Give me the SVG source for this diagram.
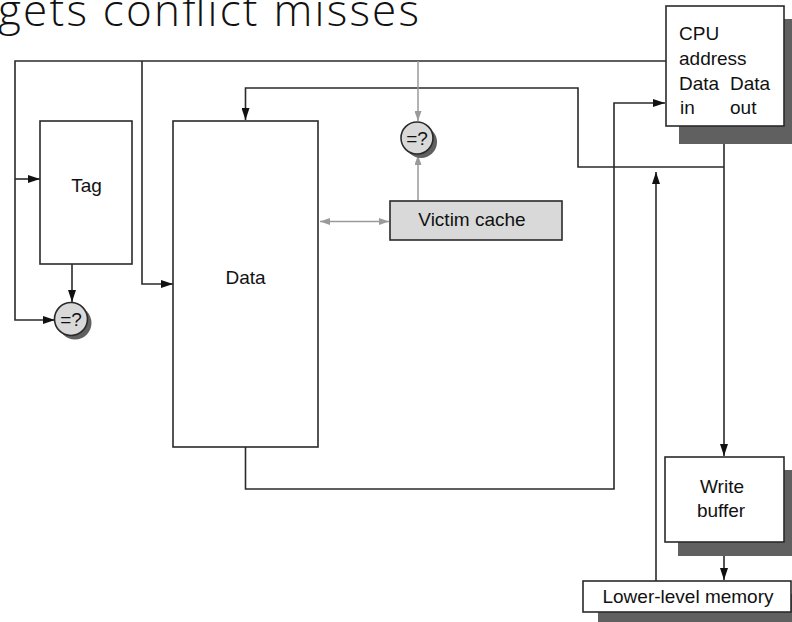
<svg xmlns="http://www.w3.org/2000/svg" width="792" height="622" viewBox="0 0 792 622">
<style>
.box{fill:#fff;stroke:#2a2a2a;stroke-width:1.6}
.gbox{fill:#d9d9d9;stroke:#2a2a2a;stroke-width:1.6}
.shadow{fill:#606060}
.ln{fill:none;stroke:#2a2a2a;stroke-width:1.6}
.gl{fill:none;stroke:#9a9a9a;stroke-width:1.5}
.t{font-family:"Liberation Sans",Arial,sans-serif;font-size:19px;fill:#111}
.c{text-anchor:middle}
.title{font-family:"Open Sans","DejaVu Sans",sans-serif;font-weight:300;font-size:44px;fill:#111}
</style>
<defs>
<marker id="ah" markerUnits="userSpaceOnUse" markerWidth="12" markerHeight="8" refX="12" refY="4" orient="auto">
<path d="M0,0 L12,4 L0,8 Z" fill="#111"/>
</marker>
<marker id="ahg" markerUnits="userSpaceOnUse" markerWidth="10" markerHeight="7" refX="10" refY="3.5" orient="auto-start-reverse">
<path d="M0,0 L10,3.5 L0,7 Z" fill="#9a9a9a"/>
</marker>
</defs>
<text class="title" x="-2" y="26" textLength="421" lengthAdjust="spacing">gets conflict misses</text>
<g id="connectors">
<path class="ln" d="M666,61 H15 V320 H55" marker-end="url(#ah)"/>
<path class="ln" d="M15,179 H40" marker-end="url(#ah)"/>
<path class="ln" d="M142,61 V284 H173" marker-end="url(#ah)"/>
<path class="ln" d="M72,264 V302" marker-end="url(#ah)"/>
<path class="ln" d="M724,126 V456" marker-end="url(#ah)"/>
<path class="ln" d="M724,167 H578 V88 H245.5 V120" marker-end="url(#ah)"/>
<path class="ln" d="M245.5,447 V489 H614 V103 H665" marker-end="url(#ah)"/>
<path class="ln" d="M656,581 V172" marker-end="url(#ah)"/>
<path class="ln" d="M724,542 V580" marker-end="url(#ah)"/>
<path class="gl" d="M418,61 V121" marker-end="url(#ahg)"/>
<path class="gl" d="M418,200 V155" marker-end="url(#ahg)"/>
<path class="gl" d="M320,221.5 H389" marker-start="url(#ahg)" marker-end="url(#ahg)"/>
</g>
<g id="tag">
<rect class="box" x="40" y="121" width="92" height="143"/>
<text class="t c" x="86.5" y="192">Tag</text>
</g>
<g id="data">
<rect class="box" x="173" y="121" width="145" height="326"/>
<text class="t c" x="245.5" y="284">Data</text>
</g>
<g id="cmp-tag">
<circle class="shadow" cx="75" cy="323" r="16.5"/>
<circle class="gbox" cx="71" cy="319" r="16.5"/>
<text class="t c" x="71" y="326" style="font-size:19px">=?</text>
</g>
<g id="cmp-victim">
<circle class="shadow" cx="421" cy="142" r="16"/>
<circle class="gbox" cx="417" cy="138" r="16"/>
<text class="t c" x="417" y="145" style="font-size:19px">=?</text>
</g>
<g id="victim-cache">
<rect class="gbox" x="390" y="201" width="172" height="39"/>
<text class="t c" x="472" y="226">Victim cache</text>
</g>
<g id="cpu">
<rect class="shadow" x="679" y="19" width="120" height="125"/>
<rect class="box" x="666" y="6" width="118" height="120"/>
<text class="t" x="679" y="40">CPU</text>
<text class="t" x="679" y="65">address</text>
<text class="t" x="679" y="90">Data</text>
<text class="t" x="730" y="90">Data</text>
<text class="t" x="680" y="114">in</text>
<text class="t" x="730" y="114">out</text>
</g>
<g id="write-buffer">
<rect class="shadow" x="678" y="470" width="120" height="86"/>
<rect class="box" x="665" y="457" width="119" height="85"/>
<text class="t c" x="722" y="493">Write</text>
<text class="t c" x="721" y="517">buffer</text>
</g>
<g id="lower-memory">
<rect class="shadow" x="598" y="594" width="200" height="40"/>
<rect class="box" x="583" y="581" width="208" height="31"/>
<text class="t c" x="688" y="603">Lower-level memory</text>
</g>
</svg>
